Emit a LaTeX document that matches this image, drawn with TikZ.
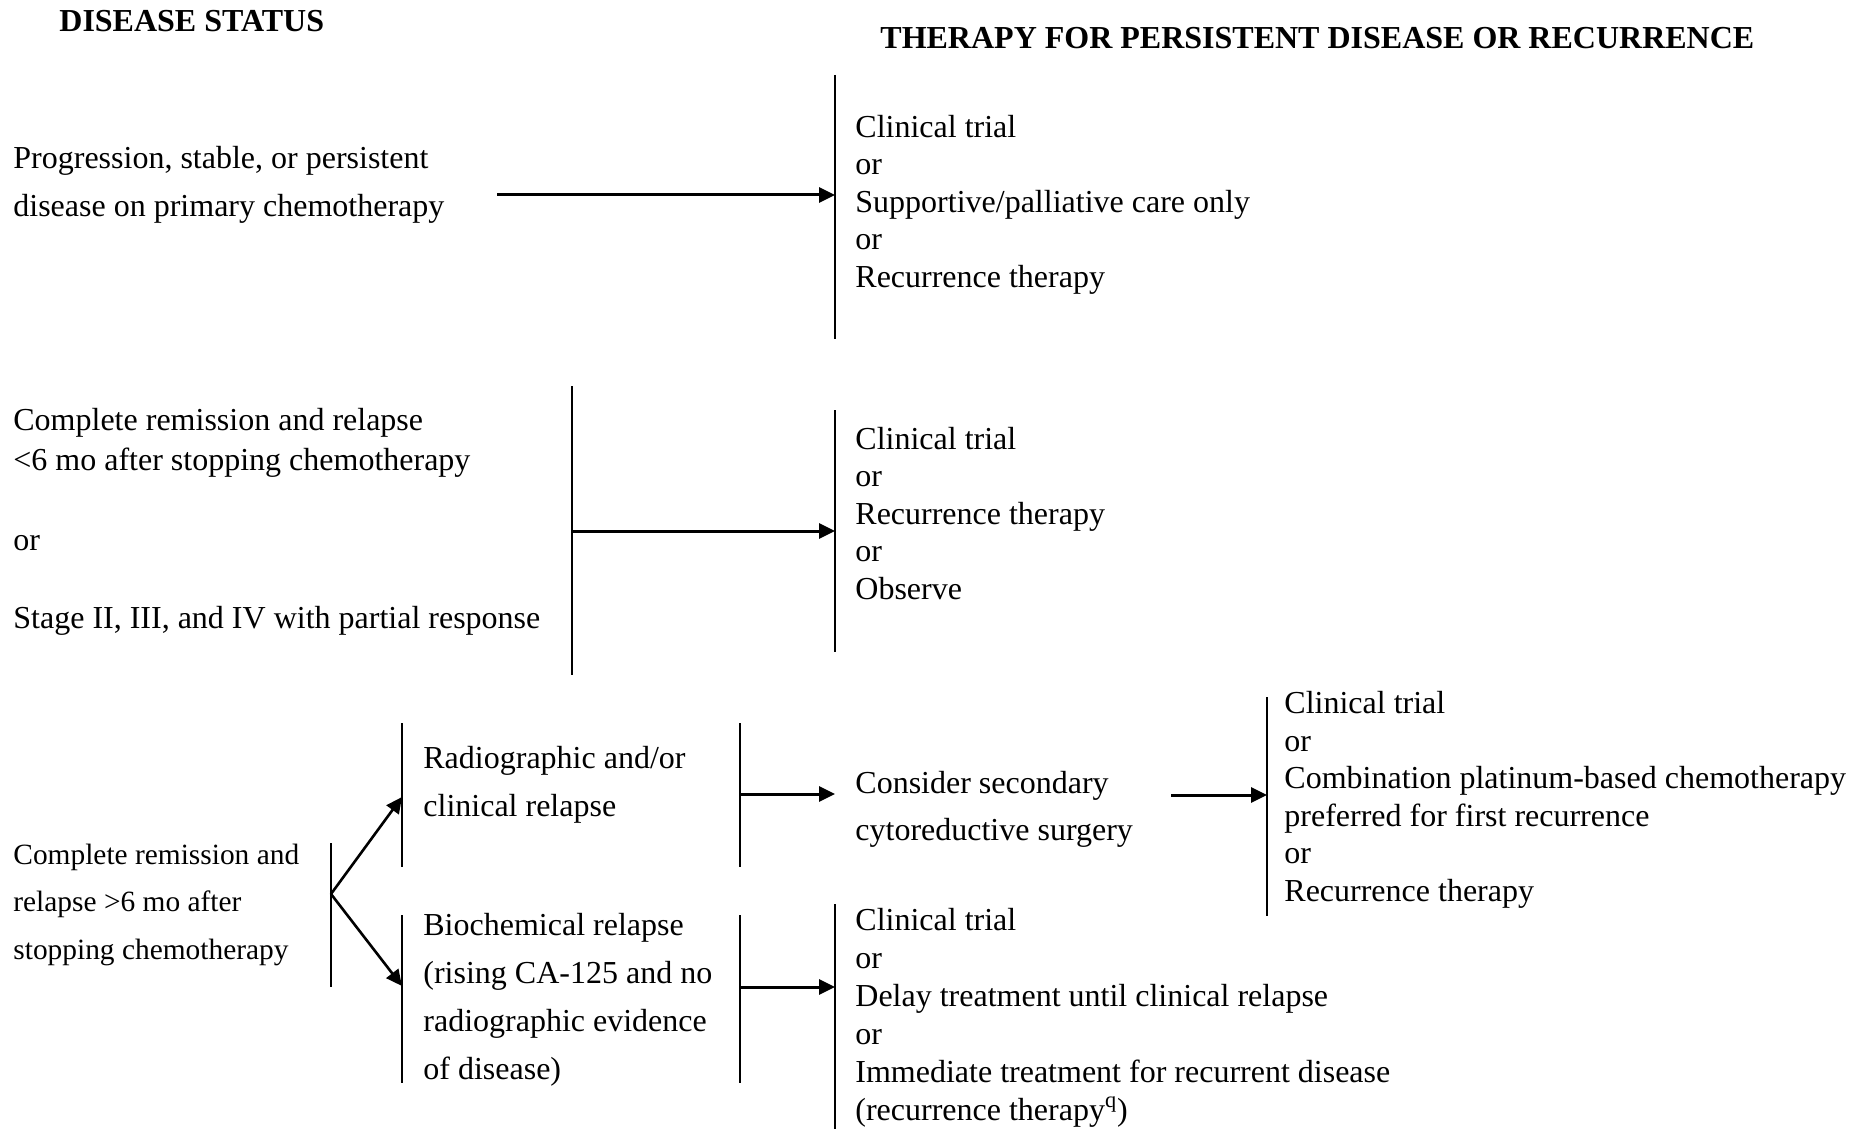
\documentclass[tikz,border=0pt]{standalone}
\usepackage{fontspec}
\setmainfont{Liberation Serif}
\usetikzlibrary{arrows.meta}
\begin{document}
\begin{tikzpicture}[x=0.5pt,y=-0.5pt,
  bar/.style={line width=1pt},
  arr/.style={line width=1.5pt,-{Triangle[length=8pt,width=7.5pt]}},
  txt/.style={anchor=base west,inner sep=0pt,align=left,font=\fontsize{16}{18.75}\selectfont},
  wide/.style={txt,font=\fontsize{16}{23.8}\selectfont},
  small/.style={txt,font=\fontsize{14.7}{23.75}\selectfont},
  head/.style={anchor=base west,inner sep=0pt,font=\fontsize{16}{19}\selectfont\bfseries}]
\useasboundingbox (0,0) rectangle (1865,1129);
% note: for multi-line nodes the base anchor is the baseline of the last line

% headers
\node[head] (h1) at (59,32) {DISEASE STATUS};
\node[head] (h2) at (880,49) {THERAPY FOR PERSISTENT DISEASE OR RECURRENCE};

% ---- section 1
\node[wide] (s1) at (13,216) {Progression, stable, or persistent\\disease on primary chemotherapy};
\coordinate (s1a) at (497,195);
\coordinate (b1t) at (835,75);
\coordinate (b1b) at (835,339);
\coordinate (b1m) at (835,195);
\draw[bar] (b1t) -- (b1b);
\draw[arr] (s1a) -- (b1m);
\node[txt] (r1) at (855,287) {Clinical trial\\or\\Supportive/palliative care only\\or\\Recurrence therapy};

% ---- section 2
\node[txt,font=\fontsize{16}{20}\selectfont] (s2) at (13,628)
  {Complete remission and relapse\\<6 mo after stopping chemotherapy\\[20pt]or\\[19pt]Stage II, III, and IV with partial response};
\coordinate (b2lt) at (572,386);
\coordinate (b2lb) at (572,675);
\coordinate (b2lm) at (572,531);
\coordinate (b2rt) at (835,410);
\coordinate (b2rb) at (835,652);
\coordinate (b2rm) at (835,531);
\draw[bar] (b2lt) -- (b2lb);
\draw[bar] (b2rt) -- (b2rb);
\draw[arr] (b2lm) -- (b2rm);
\node[txt] (r2) at (855,599) {Clinical trial\\or\\Recurrence therapy\\or\\Observe};

% ---- section 3
\node[small] (s3) at (13,959) {Complete remission and\\relapse >6 mo after\\stopping chemotherapy};
\coordinate (f0t) at (331,843);
\coordinate (f0b) at (331,987);
\coordinate (fork) at (331,894);
\draw[bar] (f0t) -- (f0b);

\coordinate (b3at) at (402,723);
\coordinate (b3ab) at (402,867);
\coordinate (b3am) at (402,797);
\coordinate (b3bt) at (402,915);
\coordinate (b3bb) at (402,1083);
\coordinate (b3bm) at (402,986);
\draw[bar] (b3at) -- (b3ab);
\draw[bar] (b3bt) -- (b3bb);
\draw[arr,line width=1.3pt] (fork) -- (b3am);
\draw[arr,line width=1.3pt] (fork) -- (b3bm);

\node[txt,font=\fontsize{16}{24}\selectfont] (rad) at (423,816) {Radiographic and/or\\clinical relapse};
\node[txt,font=\fontsize{16}{24}\selectfont] (bio) at (423,1079) {Biochemical relapse\\(rising CA-125 and no\\radiographic evidence\\of disease)};

\coordinate (b4at) at (740,723);
\coordinate (b4ab) at (740,867);
\coordinate (b4am) at (740,794);
\coordinate (b4bt) at (740,915);
\coordinate (b4bb) at (740,1083);
\coordinate (b4bm) at (740,987);
\draw[bar] (b4at) -- (b4ab);
\draw[bar] (b4bt) -- (b4bb);

\node[txt,font=\fontsize{16}{23.5}\selectfont] (cons) at (855,840) {Consider secondary\\cytoreductive surgery};
\coordinate (cons-tip) at (835,794);
\draw[arr] (b4am) -- (cons-tip);

\coordinate (c3a) at (1171,795);
\coordinate (b5t) at (1267,697);
\coordinate (b5b) at (1267,916);
\coordinate (b5m) at (1267,795);
\draw[bar] (b5t) -- (b5b);
\draw[arr] (c3a) -- (b5m);
\node[txt] (r3) at (1284,901) {Clinical trial\\or\\Combination platinum-based chemotherapy\\preferred for first recurrence\\or\\Recurrence therapy};

\coordinate (b6t) at (835,904);
\coordinate (b6b) at (835,1129);
\coordinate (b6m) at (835,987);
\draw[bar] (b6t) -- (b6b);
\draw[arr] (b4bm) -- (b6m);
\node[txt,font=\fontsize{16}{19}\selectfont] (r4) at (855,1120) {Clinical trial\\or\\Delay treatment until clinical relapse\\or\\Immediate treatment for recurrent disease\\(recurrence therapy\textsuperscript{q})};
\end{tikzpicture}
\end{document}
